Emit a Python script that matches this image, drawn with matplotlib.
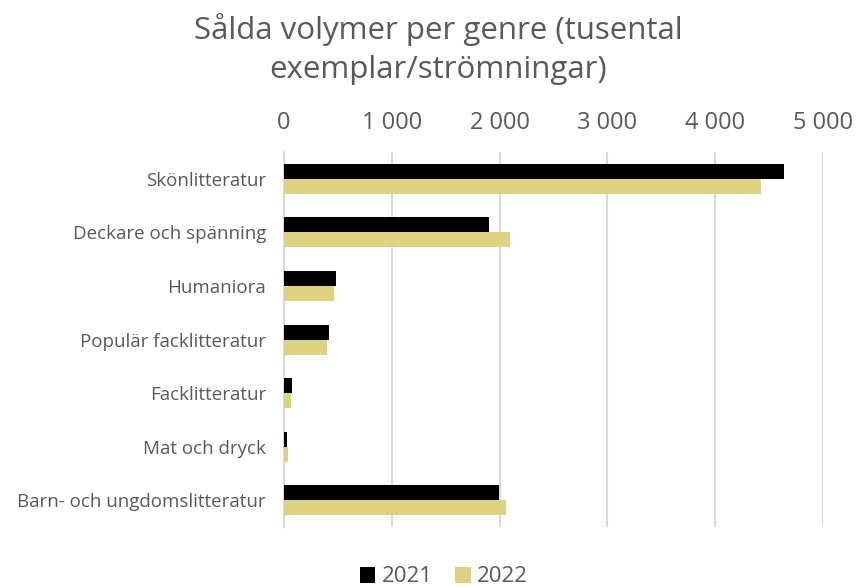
import numpy as np
import matplotlib.pyplot as plt
from matplotlib.ticker import FuncFormatter

plt.rcParams['font.family'] = ['Open Sans', 'DejaVu Sans']

genres = ['Skönlitteratur', 'Deckare och spänning', 'Humaniora',
          'Populär facklitteratur', 'Facklitteratur', 'Mat och dryck',
          'Barn- och ungdomslitteratur']
vol_2021 = [4635, 1900, 485, 418, 72, 28, 1995]
vol_2022 = [4425, 2095, 465, 398, 63, 40, 2058]
xticks = [0, 1000, 2000, 3000, 4000, 5000]

text_col = '#595959'
grid_col = '#d9d9d9'

fig = plt.figure(figsize=(8.56, 5.87), dpi=100)
ax = fig.add_axes([284 / 856, 1 - 527 / 587, (823 - 284) / 856, (527 - 152) / 587])

y = np.arange(len(genres))
h = 0.28
ax.barh(y - h / 2, vol_2021, height=h, color='#000000', label='2021', zorder=3)
ax.barh(y + h / 2, vol_2022, height=h, color='#dcd27f', label='2022', zorder=3)

ax.set_xlim(0, 5000)
ax.set_ylim(len(genres) - 0.5, -0.5)
ax.set_xticks(xticks)
ax.xaxis.set_major_formatter(FuncFormatter(lambda v, p: f'{int(v):,}'.replace(',', ' ')))
ax.xaxis.tick_top()
ax.tick_params(axis='x', length=0, labelsize=17, labelcolor=text_col, pad=12)
ax.set_yticks(y)
ax.set_yticklabels(genres)
ax.tick_params(axis='y', length=0, labelsize=13.5, labelcolor=text_col, pad=13)

ax.grid(axis='x', color=grid_col, linewidth=1.5, zorder=0)
for s in ['top', 'right', 'bottom']:
    ax.spines[s].set_visible(False)
ax.spines['left'].set_color(grid_col)
ax.spines['left'].set_linewidth(1.5)

fig.text(438 / 856, 1 - 30 / 587, 'Sålda volymer per genre (tusental',
         ha='center', va='center', fontsize=22.5, color=text_col)
fig.text(438 / 856, 1 - 70 / 587, 'exemplar/strömningar)',
         ha='center', va='center', fontsize=22.5, color=text_col)

fig.legend(loc='center', bbox_to_anchor=(444 / 856, 1 - 577 / 587), ncol=2,
           frameon=False, fontsize=16, labelcolor=text_col, handlelength=0.7,
           handleheight=0.7, handletextpad=0.3, columnspacing=1.0)

fig.savefig('out.png', dpi=100)
